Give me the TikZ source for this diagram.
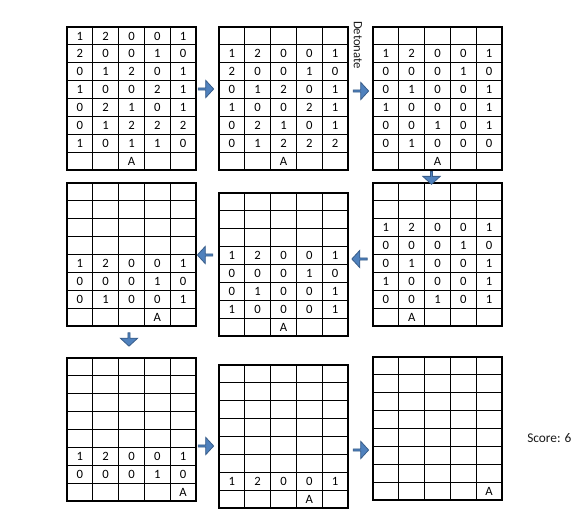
\documentclass[tikz,border=0pt]{standalone}
\usepackage{fontspec}
\setmainfont{Carlito}
\usetikzlibrary{shapes.arrows}
\definecolor{arrowfill}{HTML}{4F81BD}
\definecolor{arrowline}{HTML}{385D8A}
\tikzset{
  gridline/.style={draw=black, line width=0.9pt},
  celltext/.style={inner sep=0pt, font=\fontsize{9.5}{11}\selectfont, text=black},
  barrow/.style={single arrow, fill=arrowfill, draw=arrowline, line width=0.6pt,
    inner sep=0pt, minimum height=11.5pt, minimum width=13pt,
    single arrow head extend=2.2pt, single arrow tip angle=95},
  note/.style={inner sep=0pt, font=\fontsize{10}{12}\selectfont, text=black!90}
}
\newcommand\boardat[3]{%
  \begin{scope}[shift={#2}]
    \draw[gridline] (0,0) rectangle (129,143);
    \foreach \i in {1,...,4} \draw[gridline] (\i*25.8,0) -- (\i*25.8,143);
    \foreach \j in {1,...,7} \draw[gridline] (0,\j*17.875) -- (129,\j*17.875);
    \foreach \row [count=\r] in {#3} {
      \foreach \v [count=\c] in \row {
        \node[celltext] (#1-\r-\c) at ({(\c-0.5)*25.8},{(\r-0.5)*17.875}) {\v};
      }
    }
  \end{scope}}
\begin{document}
\begin{tikzpicture}[x=0.75pt,y=-0.75pt]
\useasboundingbox[fill=white] (0,0) rectangle (573,528);
% row 1
\boardat{ga}{(67,27)}{{1,2,0,0,1},{2,0,0,1,0},{0,1,2,0,1},{1,0,0,2,1},{0,2,1,0,1},{0,1,2,2,2},{1,0,1,1,0},{{},{},A,{},{}}}
\boardat{gb}{(219,27)}{{{},{},{},{},{}},{1,2,0,0,1},{2,0,0,1,0},{0,1,2,0,1},{1,0,0,2,1},{0,2,1,0,1},{0,1,2,2,2},{{},{},A,{},{}}}
\boardat{gc}{(373,27)}{{{},{},{},{},{}},{1,2,0,0,1},{0,0,0,1,0},{0,1,0,0,1},{1,0,0,0,1},{0,0,1,0,1},{0,1,0,0,0},{{},{},A,{},{}}}
% row 2
\boardat{gd}{(67,183)}{{{},{},{},{},{}},{{},{},{},{},{}},{{},{},{},{},{}},{{},{},{},{},{}},{1,2,0,0,1},{0,0,0,1,0},{0,1,0,0,1},{{},{},{},A,{}}}
\boardat{ge}{(219,193)}{{{},{},{},{},{}},{{},{},{},{},{}},{{},{},{},{},{}},{1,2,0,0,1},{0,0,0,1,0},{0,1,0,0,1},{1,0,0,0,1},{{},{},A,{},{}}}
\boardat{gf}{(373,183)}{{{},{},{},{},{}},{{},{},{},{},{}},{1,2,0,0,1},{0,0,0,1,0},{0,1,0,0,1},{1,0,0,0,1},{0,0,1,0,1},{{},A,{},{},{}}}
% row 3
\boardat{gg}{(67,358)}{{{},{},{},{},{}},{{},{},{},{},{}},{{},{},{},{},{}},{{},{},{},{},{}},{{},{},{},{},{}},{1,2,0,0,1},{0,0,0,1,0},{{},{},{},{},A}}
\boardat{gh}{(219,365)}{{{},{},{},{},{}},{{},{},{},{},{}},{{},{},{},{},{}},{{},{},{},{},{}},{{},{},{},{},{}},{{},{},{},{},{}},{1,2,0,0,1},{{},{},{},A,{}}}
\boardat{gi}{(373,357)}{{{},{},{},{},{}},{{},{},{},{},{}},{{},{},{},{},{}},{{},{},{},{},{}},{{},{},{},{},{}},{{},{},{},{},{}},{{},{},{},{},{}},{{},{},{},{},A}}
% arrows
\node[barrow] (a1) at (205.5,89) {};
\node[barrow] (a2) at (360.5,91) {};
\node[barrow, rotate=-90, minimum height=9.5pt] (a3) at (431.5,177.5) {};
\node[barrow, rotate=180] (a4) at (360,259) {};
\node[barrow, rotate=180] (a5) at (205.5,255) {};
\node[barrow, rotate=-90, minimum height=10pt] (a6) at (129,339) {};
\node[barrow] (a7) at (205.5,446) {};
\node[barrow] (a8) at (360.5,450) {};
% labels
\node[note, rotate=-90, font=\fontsize{9.5}{11}\selectfont] (det) at (358,45) {Detonate};
\node[note, anchor=west] (score) at (527,438) {Score: 6};
\end{tikzpicture}
\end{document}
